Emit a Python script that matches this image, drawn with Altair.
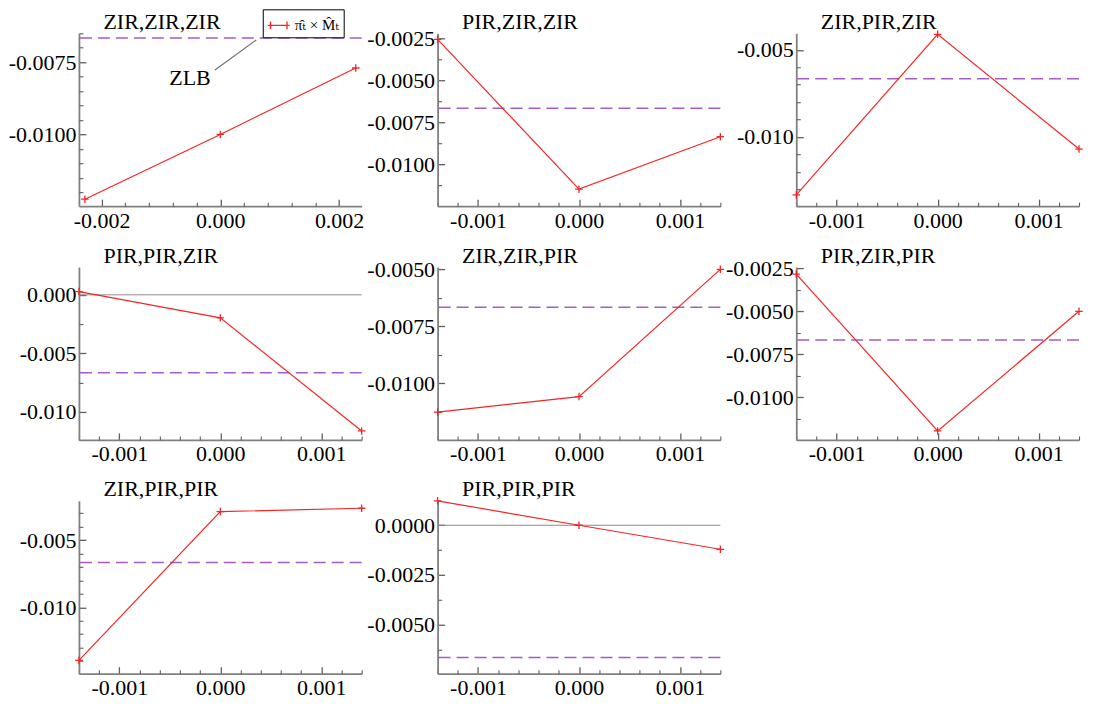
import math
import altair as alt
import pandas as pd

FONT = "'Liberation Serif', 'Times New Roman', 'DejaVu Serif', serif"
RED = "#f52525"
PURPLE = "#a35cc8"
AXIS_GRAY = "#808080"
TICK_GRAY = "#606060"

SERIES = "π̂ₜ × M̂ₜ"
ZLB = -0.00666

TITLES = ["ZIR,ZIR,ZIR", "PIR,ZIR,ZIR", "ZIR,PIR,ZIR",
          "PIR,PIR,ZIR", "ZIR,ZIR,PIR", "PIR,ZIR,PIR",
          "ZIR,PIR,PIR", "PIR,PIR,PIR"]

X_VALUES = [
    [-0.00228, 0.0, 0.00228],
    [-0.0014, 0.0, 0.0014],
    [-0.0014, 0.0, 0.0014],
    [-0.0014, 0.0, 0.0014],
    [-0.0014, 0.0, 0.0014],
    [-0.0014, 0.0, 0.0014],
    [-0.0014, 0.0, 0.0014],
    [-0.0014, 0.0, 0.0014],
]
Y_VALUES = [
    [-0.01224, -0.0100, -0.0077],
    [-0.00256, -0.01147, -0.00835],
    [-0.01333, -0.00411, -0.0107],
    [0.00028, -0.00197, -0.01163],
    [-0.01126, -0.01058, -0.0050],
    [-0.00284, -0.01195, -0.0050],
    [-0.01396, -0.00287, -0.00262],
    [0.00123, 0.0, -0.00121],
]

X_DOMAINS = [[-0.00238, 0.00238]] + [[-0.0014, 0.0014]] * 7
Y_DOMAINS = [
    [-0.01248, -0.0065],
    [-0.01248, -0.0022],
    [-0.01398, -0.00405],
    [-0.0124, 0.00237],
    [-0.01248, -0.0049],
    [-0.01247, -0.00243],
    [-0.01495, -0.00207],
    [-0.00748, 0.00123],
]
X_MAJOR = [0.002] + [0.001] * 7
X_MINOR = [0.0004] + [0.0002] * 7
Y_MAJOR = [0.0025, 0.0025, 0.005, 0.005, 0.0025, 0.0025, 0.005, 0.0025]
Y_MINOR = [0.0005, 0.00125, 0.001, 0.0025, 0.00125, 0.00125, 0.001, 0.00125]
Y_DECIMALS = [4, 4, 3, 3, 4, 4, 3, 4]
ZERO_LINE = [False, False, False, True, False, False, False, True]

# ZLB annotation (panel 1)
ZLB_TEXT_X, ZLB_TEXT_Y = -0.00051, -0.0083
ZLB_LEADER = {"x": [-0.00009], "y": [-0.00777], "x2": [0.000605], "y2": [-0.00673]}

PLUS = "M-1,0L1,0M0,-1L0,1"
LEGEND_SYMBOL = "M-1,0L1,0M-0.75,-0.35L-0.75,0.35M0.75,-0.35L0.75,0.35"

W, H = 283, 173
LABEL_SIZE = 22
TITLE_SIZE = 22


def tick_values(lo, hi, step, skip=None):
    a = math.ceil(lo / step - 1e-9)
    b = math.floor(hi / step + 1e-9)
    out = []
    for k in range(a, b + 1):
        v = round(k * step, 8)
        if skip is not None and abs(v / skip - round(v / skip)) < 1e-6:
            continue
        out.append(v)
    return out


def label_expr(dec):
    return f"replace(format(datum.value, '.{dec}f'), '\u2212', '-')"


def major_axis(orient, values, dec):
    return alt.Axis(orient=orient, values=values, labelExpr=label_expr(dec),
                    labelFont=FONT, labelFontSize=LABEL_SIZE, labelColor="black",
                    tickSize=alt.ExprRef(expr="-7"), tickColor=TICK_GRAY, tickWidth=1.3,
                    domainColor=AXIS_GRAY, domainWidth=1.8,
                    labelPadding=11 if orient == "bottom" else 10,
                    grid=False, title=None, labelFlush=False, labelOverlap=False)


def minor_axis(orient, values, title=None):
    kw = dict(orient=orient, values=values, labels=False, domain=False,
              tickSize=alt.ExprRef(expr="-4"), tickColor=TICK_GRAY, tickWidth=1.1,
              grid=False)
    if title is not None:
        # panel heading, drawn as the axis title just above the plot's top-left corner
        kw.update(title=title, titleAngle=0, titleX=24, titleY=-5, titleAlign="left",
                  titleBaseline="alphabetic", titleFont=FONT, titleFontSize=TITLE_SIZE,
                  titleFontWeight="normal", titleColor="black")
    else:
        kw.update(title=None)
    return alt.Axis(**kw)


LEGEND = alt.Legend(orient="none", legendX=184, legendY=-24, title=None,
                    strokeColor="black", fillColor="white", padding=4, cornerRadius=0,
                    labelFont=FONT, labelFontSize=15, labelColor="black", labelOffset=4,
                    symbolType=LEGEND_SYMBOL, symbolSize=484, symbolStrokeWidth=1.3,
                    symbolFillColor="transparent", symbolStrokeColor=RED)


def make_panel(i):
    df = pd.DataFrame({"x": X_VALUES[i], "y": Y_VALUES[i], "series": [SERIES] * 3})
    xs = alt.Scale(domain=X_DOMAINS[i], nice=False, zero=False)
    ys = alt.Scale(domain=Y_DOMAINS[i], nice=False, zero=False)
    color = alt.Color("series:N", scale=alt.Scale(domain=[SERIES], range=[RED]), legend=LEGEND)

    xlo, xhi = X_DOMAINS[i]
    ylo, yhi = Y_DOMAINS[i]
    x_major = tick_values(xlo, xhi, X_MAJOR[i])
    x_minor = tick_values(xlo, xhi, X_MINOR[i], skip=X_MAJOR[i])
    y_major = tick_values(ylo, yhi, Y_MAJOR[i])
    y_minor = tick_values(ylo, yhi, Y_MINOR[i], skip=Y_MAJOR[i])

    layers = []
    if ZERO_LINE[i]:
        layers.append(
            alt.Chart(pd.DataFrame({"y": [0.0]})).mark_rule(color="#8c8c8c", strokeWidth=1)
            .encode(y=alt.Y("y:Q", scale=ys, axis=None))
        )
    layers.append(
        alt.Chart(pd.DataFrame({"y": [ZLB]})).mark_rule(color=PURPLE, strokeWidth=1.5, strokeDash=[12, 6])
        .encode(y=alt.Y("y:Q", scale=ys, axis=None))
    )
    layers.append(
        alt.Chart(df).mark_line(strokeWidth=1.2).encode(
            x=alt.X("x:Q", scale=xs, axis=major_axis("bottom", x_major, 3)),
            y=alt.Y("y:Q", scale=ys, axis=major_axis("left", y_major, Y_DECIMALS[i])),
            color=color,
        )
    )
    layers.append(
        alt.Chart(df).mark_point(shape=PLUS, size=56, filled=False, strokeWidth=1.3, opacity=1).encode(
            x=alt.X("x:Q", scale=xs, axis=minor_axis("bottom", x_minor)),
            y=alt.Y("y:Q", scale=ys, axis=minor_axis("left", y_minor, TITLES[i])),
            color=color,
        )
    )
    if i == 0:
        layers.append(
            alt.Chart(pd.DataFrame(ZLB_LEADER)).mark_rule(color="#707070", strokeWidth=1.2).encode(
                x=alt.X("x:Q", scale=xs, axis=None), y=alt.Y("y:Q", scale=ys, axis=None),
                x2="x2:Q", y2="y2:Q")
        )
        layers.append(
            alt.Chart(pd.DataFrame({"x": [ZLB_TEXT_X], "y": [ZLB_TEXT_Y], "t": ["ZLB"]}))
            .mark_text(font=FONT, fontSize=22, color="black", align="center", baseline="alphabetic")
            .encode(x=alt.X("x:Q", scale=xs, axis=None), y=alt.Y("y:Q", scale=ys, axis=None), text="t:N")
        )
    return alt.layer(*layers).resolve_axis(x="independent", y="independent").properties(
        width=W, height=H)


panels = [make_panel(i) for i in range(8)]
chart = alt.concat(*panels, columns=3, spacing={"row": 61, "column": 76}, bounds="flush") \
    .configure_view(stroke=None) \
    .properties(padding={"left": 0, "top": 0, "right": 0, "bottom": 0})

chart.save("out.html", embed_options={"renderer": "svg", "actions": False})
